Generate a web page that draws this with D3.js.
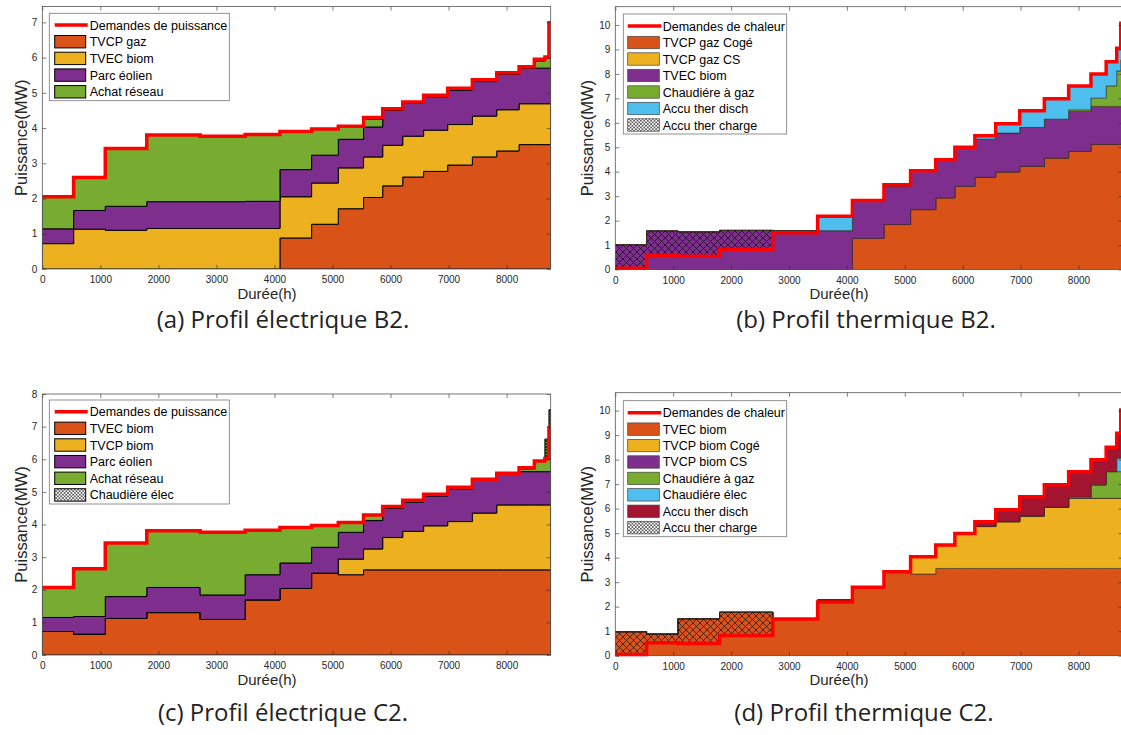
<!DOCTYPE html>
<html><head><meta charset="utf-8">
<script src="https://cdn.jsdelivr.net/npm/d3@7"></script>
<style>body{margin:0;background:#fff;}svg{display:block;}</style>
</head><body>
<script>
// ---------- DATA ----------
const hours = [0,540,1085,1800,2720,3495,4095,4640,5100,5535,5865,6210,6570,6985,7410,7830,8215,8478,8660,8730,8760];
const xTicks = [0,1000,2000,3000,4000,5000,6000,7000,8000];
const yTicksA = [0,1,2,3,4,5,6,7];
const yTicksB = [0,1,2,3,4,5,6,7,8,9,10];
const yTicksC = [0,1,2,3,4,5,6,7,8];
const yTicksD = [0,1,2,3,4,5,6,7,8,9,10];

// (a) Profil électrique B2
const demandA  = [2.05,2.60,3.42,3.80,3.77,3.82,3.90,3.97,4.05,4.30,4.55,4.74,4.93,5.13,5.37,5.57,5.74,5.95,6.02,6.99];
const tvcpGazA = [0,0,0,0,0,0,0.88,1.27,1.71,2.03,2.36,2.61,2.77,2.95,3.18,3.35,3.53,3.53,3.53,3.53];
const tvecBiomA= [0.72,1.13,1.10,1.15,1.15,1.15,1.17,1.17,1.16,1.15,1.15,1.16,1.17,1.15,1.16,1.17,1.16,1.16,1.16,1.16];
const eolienA  = [0.42,0.53,0.68,0.76,0.76,0.77,0.77,0.79,0.81,0.85,0.99,0.93,0.95,0.98,0.98,1.00,1.01,1.01,1.01,1.01];
const reseauA  = [0.91,0.94,1.64,1.89,1.86,1.90,1.08,0.74,0.37,0.22,0,0,0,0,0,0,0,0.20,0.29,0.29];

// (b) Profil thermique B2
const demandB  = [0.05,0.57,0.54,0.82,1.50,2.18,2.82,3.47,4.04,4.49,5.00,5.47,5.96,6.49,6.98,7.51,8.00,8.50,9.05,10.07];
const cogeGazB = [0,0,0,0,0,0,1.27,1.84,2.45,2.93,3.40,3.77,3.99,4.22,4.56,4.83,5.12,5.12,5.12,5.12];
const csGazB   = [0,0,0,0,0,0,0,0,0,0,0,0,0,0,0,0,0,0,0,0];
const tvecBiomB= [1.01,1.58,1.54,1.60,1.59,1.59,1.53,1.58,1.56,1.53,1.57,1.56,1.59,1.59,1.59,1.63,1.55,1.55,1.55,1.55];
const chaudGazB= [0,0,0,0,0,0,0,0,0,0,0,0,0,0,0,0.07,0.34,0.84,1.45,1.90];
const dischB   = [0,0,0,0,0,0.59,0.02,0,0,0,0,0.14,0.38,0.68,0.83,0.98,0.99,0.99,0.93,1.50];
const chargeB  = [0.96,1.01,1.00,0.78,0,0,0,0,0,0,0,0,0,0,0,0,0,0,0,0];

// (c) Profil électrique C2
const demandC  = [2.07,2.64,3.43,3.81,3.76,3.82,3.91,3.97,4.06,4.29,4.55,4.74,4.93,5.14,5.39,5.57,5.74,5.95,6.02,6.96];
const tvecBiomC= [0.72,0.64,1.12,1.30,1.09,1.69,2.04,2.51,2.46,2.61,2.61,2.61,2.61,2.61,2.61,2.61,2.61,2.61,2.61,2.61];
const tvcpBiomC= [0,0,0,0,0,0,0,0,0.48,0.64,0.99,1.18,1.35,1.48,1.74,1.99,1.99,1.99,1.99,1.99];
const eolienC  = [0.43,0.54,0.67,0.77,0.75,0.77,0.78,0.79,0.82,0.87,0.90,0.90,0.92,1.00,1.00,0.98,1.02,1.02,1.02,1.02];
const reseauC  = [0.92,1.46,1.64,1.74,1.92,1.36,1.09,0.67,0.30,0.17,0,0,0,0,0,0,0.08,0.31,1.00,1.90];
const chaudElecC=[0,0,0,0,0,0,0,0,0,0,0,0,0,0,0,0,0,0,0.60,0.56];

// (d) Profil thermique C2
const demandD  = [0.05,0.53,0.50,0.82,1.50,2.19,2.79,3.43,4.04,4.52,4.99,5.47,5.95,6.49,6.97,7.51,7.99,8.50,9.08,10.02];
const tvecBiomD= [0.98,0.88,1.51,1.77,1.50,2.27,2.79,3.43,3.33,3.56,3.56,3.56,3.56,3.56,3.56,3.56,3.56,3.56,3.56,3.56];
const cogeBiomD= [0,0,0,0,0,0,0,0,0.71,0.96,1.43,1.71,1.91,2.14,2.50,2.86,2.86,2.86,2.86,2.86];
const csBiomD  = [0,0,0,0,0,0,0,0,0,0,0,0,0,0,0,0,0,0,0,0];
const chaudGazD= [0,0,0,0,0,0,0,0,0,0,0,0,0,0,0,0,0.55,1.09,1.09,1.09];
const chaudElecD=[0,0,0,0,0,0,0,0,0,0,0,0,0,0,0,0.05,0,0,0.55,0.60];
const dischD   = [0,0,0,0,0,0,0,0,0,0,0,0.20,0.48,0.79,0.91,1.04,1.02,0.99,1.02,1.91];
const chargeD  = [0.93,0.35,1.01,0.95,0,0.08,0,0,0,0,0,0,0,0,0,0,0,0,0,0];

// ---------- STYLE ----------
const C = {orange:"#D95319", yellow:"#EDB120", purple:"#7E2F8E", green:"#77AC30", cyan:"#4DBEEE", dred:"#A2142F"};
const W = 1121, H = 735;
const svg = d3.select("body").append("svg").attr("width", W).attr("height", H);
const defs = svg.append("defs");
function hatch(id, s, sw){
  const p = defs.append("pattern").attr("id", id).attr("patternUnits","userSpaceOnUse")
    .attr("width", s).attr("height", s);
  p.append("path").attr("d", `M0,0L${s},${s}M${s},0L0,${s}`).attr("stroke","#000").attr("stroke-width", sw).attr("fill","none");
}
hatch("hatchBig", 7, 0.6);
hatch("hatchSmall", 3.4, 0.55);
hatch("hatchDense", 3, 0.7);

const panels = [
  {id:"a", x0:42.3, x1:550.7, yb:269, yt:6.5, ymax:7.45, yTicks:yTicksA, edge:"#000", edgeW:1,
   demand:demandA, demandName:"Demandes de puissance",
   series:[{k:"TVCP gaz", v:tvcpGazA, c:C.orange},{k:"TVEC biom", v:tvecBiomA, c:C.yellow},
           {k:"Parc éolien", v:eolienA, c:C.purple},{k:"Achat réseau", v:reseauA, c:C.green}],
   extra:null,
   leg:{x:49.3, y:13.3, w:180, h:87.4, r0:25, dr:16.7, px:54.7, pw:31, tx:89.7},
   labX:267, labY:299, ylabX:21, caption:"(a) Profil électrique B2.", capX:283, capY:328},
  {id:"b", x0:615.3, x1:1122.5, yb:269.5, yt:6.7, ymax:10.75, yTicks:yTicksB, edge:"#3a2a20", edgeW:0.6,
   demand:demandB, demandName:"Demandes de chaleur",
   series:[{k:"TVCP gaz Cogé", v:cogeGazB, c:C.orange},{k:"TVCP gaz CS", v:csGazB, c:C.yellow},
           {k:"TVEC biom", v:tvecBiomB, c:C.purple},{k:"Chaudiére à gaz", v:chaudGazB, c:C.green},
           {k:"Accu ther disch", v:dischB, c:C.cyan}],
   extra:{k:"Accu ther charge", v:chargeB, pat:"hatchBig"},
   leg:{x:623.3, y:14, w:163.4, h:120, r0:26, dr:16.5, px:627.7, pw:31.6, tx:662.7},
   labX:839, labY:299, ylabX:587, caption:"(b) Profil thermique B2.", capX:866, capY:328},
  {id:"c", x0:42.3, x1:550.7, yb:655, yt:394, ymax:8.0, yTicks:yTicksC, edge:"#000", edgeW:1,
   demand:demandC, demandName:"Demandes de puissance",
   series:[{k:"TVEC biom", v:tvecBiomC, c:C.orange},{k:"TVCP biom", v:tvcpBiomC, c:C.yellow},
           {k:"Parc éolien", v:eolienC, c:C.purple},{k:"Achat réseau", v:reseauC, c:C.green}],
   extra:{k:"Chaudière élec", v:chaudElecC, pat:"hatchDense"},
   leg:{x:49.3, y:400, w:180, h:104, r0:411.7, dr:16.65, px:54.7, pw:31, tx:89.7},
   labX:267, labY:685, ylabX:21, caption:"(c) Profil électrique C2.", capX:283, capY:721},
  {id:"d", x0:615.3, x1:1122.5, yb:655.7, yt:392.7, ymax:10.73, yTicks:yTicksD, edge:"#3a2a20", edgeW:0.6,
   demand:demandD, demandName:"Demandes de chaleur",
   series:[{k:"TVEC biom", v:tvecBiomD, c:C.orange},{k:"TVCP biom Cogé", v:cogeBiomD, c:C.yellow},
           {k:"TVCP biom CS", v:csBiomD, c:C.purple},{k:"Chaudiére à gaz", v:chaudGazD, c:C.green},
           {k:"Chaudiére élec", v:chaudElecD, c:C.cyan},{k:"Accu ther disch", v:dischD, c:C.dred}],
   extra:{k:"Accu ther charge", v:chargeD, pat:"hatchBig"},
   leg:{x:623.3, y:400.7, w:163.4, h:136, r0:412.7, dr:16.43, px:627.7, pw:31.6, tx:662.7},
   labX:839, labY:685, ylabX:587, caption:"(d) Profil thermique C2.", capX:864, capY:721}
];

const axisCol = "#262626";
const tickFont = "Liberation Sans, Arial, sans-serif";
const fmt = d3.format("d");

panels.forEach(p => {
  const g = svg.append("g");
  const x = d3.scaleLinear().domain([0, 8760]).range([p.x0, p.x1]);
  const y = d3.scaleLinear().domain([0, p.ymax]).range([p.yb, p.yt]);
  const n = p.demand.length;
  const rows = hours.map((h, i) => {
    const j = Math.min(i, n - 1);
    const o = {x: h, demand: p.demand[j], extra: p.extra ? p.extra.v[j] : 0};
    p.series.forEach(s => o[s.k] = s.v[j]);
    return o;
  });
  const stacked = d3.stack().keys(p.series.map(s => s.k))(rows);
  const area = d3.area().curve(d3.curveStepAfter)
    .x(d => x(d.data.x)).y0(d => y(d[0])).y1(d => y(d[1]));

  defs.append("clipPath").attr("id", "clip" + p.id).append("rect")
    .attr("x", p.x0).attr("y", p.yt).attr("width", p.x1 - p.x0).attr("height", p.yb - p.yt);
  const plot = g.append("g").attr("clip-path", `url(#clip${p.id})`);

  plot.selectAll("path.layer").data(stacked).join("path")
    .attr("class", "layer")
    .attr("d", area)
    .attr("fill", (d, i) => p.series[i].c)
    .attr("stroke", p.edge).attr("stroke-width", p.edgeW).attr("stroke-linejoin", "miter");

  if (p.extra) {
    const hArea = d3.area().curve(d3.curveStepAfter)
      .x(d => x(d.x)).y0(d => y(d.demand)).y1(d => y(d.demand + d.extra));
    plot.append("path").attr("d", hArea(rows)).attr("fill", `url(#${p.extra.pat})`).attr("stroke", "none");
  }

  // demand line
  const line = d3.line().curve(d3.curveStepAfter).x(d => x(d.x)).y(d => y(d.demand));
  g.append("path").attr("d", line(rows)).attr("fill", "none")
    .attr("stroke", "#FF0000").attr("stroke-width", 3.5);

  // axes (ticks inside, box)
  const mk = (ax, tr) => {
    const a = g.append("g").attr("transform", tr).call(ax);
    a.select(".domain").remove();
    a.selectAll(".tick line").attr("stroke", axisCol).attr("stroke-width", 0.6);
    a.selectAll("text").attr("fill", axisCol).style("font-family", tickFont).style("font-size", "10px");
    return a;
  };
  mk(d3.axisBottom(x).tickValues(xTicks).tickFormat(fmt).tickSizeInner(-4).tickSizeOuter(0).tickPadding(7), `translate(0,${p.yb})`);
  mk(d3.axisTop(x).tickValues(xTicks).tickSizeInner(-4).tickSizeOuter(0).tickFormat(""), `translate(0,${p.yt})`);
  mk(d3.axisLeft(y).tickValues(p.yTicks).tickFormat(fmt).tickSizeInner(-4).tickSizeOuter(0).tickPadding(5), `translate(${p.x0},0)`);
  mk(d3.axisRight(y).tickValues(p.yTicks).tickSizeInner(-4).tickSizeOuter(0).tickFormat(""), `translate(${p.x1},0)`);
  g.append("rect").attr("x", p.x0).attr("y", p.yt).attr("width", p.x1 - p.x0).attr("height", p.yb - p.yt)
    .attr("fill", "none").attr("stroke", "#555").attr("stroke-width", 0.8);

  // axis titles
  g.append("text").attr("x", p.labX).attr("y", p.labY).attr("text-anchor", "middle")
    .style("font-family", tickFont).style("font-size", "15px").attr("fill", axisCol).text("Durée(h)");
  g.append("text").attr("transform", `translate(${p.ylabX},${(p.yb + p.yt) / 2}) rotate(-90)`)
    .attr("text-anchor", "middle").attr("dy", "0.35em")
    .style("font-family", tickFont).style("font-size", "16.5px").attr("fill", axisCol).text("Puissance(MW)");

  // legend
  const L = p.leg;
  const lg = g.append("g");
  lg.append("rect").attr("x", L.x).attr("y", L.y).attr("width", L.w).attr("height", L.h)
    .attr("fill", "#fff").attr("stroke", "#777").attr("stroke-width", 0.8);
  const entries = [{k: p.demandName, type: "line"}]
    .concat(p.series.map(s => ({k: s.k, type: "patch", c: s.c})))
    .concat(p.extra ? [{k: p.extra.k, type: "hatch"}] : []);
  entries.forEach((e, i) => {
    const cy = L.r0 + i * L.dr;
    if (e.type === "line") {
      lg.append("line").attr("x1", L.px).attr("x2", L.px + L.pw + 2).attr("y1", cy).attr("y2", cy)
        .attr("stroke", "#FF0000").attr("stroke-width", 3.5);
    } else {
      lg.append("rect").attr("x", L.px).attr("y", cy - 6.2).attr("width", L.pw).attr("height", 12.4)
        .attr("fill", e.type === "hatch" ? "url(#hatchSmall)" : e.c)
        .attr("stroke", p.edgeW >= 1 ? "#000" : "#444").attr("stroke-width", p.edgeW >= 1 ? 1 : 0.7);
    }
    lg.append("text").attr("x", L.tx).attr("y", cy).attr("dy", "0.36em")
      .style("font-family", tickFont).style("font-size", "12.5px").attr("fill", "#000").text(e.k);
  });

  // caption
  svg.append("text").attr("x", p.capX).attr("y", p.capY).attr("text-anchor", "middle")
    .style("font-family", "Open Sans, sans-serif").style("font-size", "24px").attr("fill", "#222")
    .text(p.caption);
});
</script>
</body></html>
